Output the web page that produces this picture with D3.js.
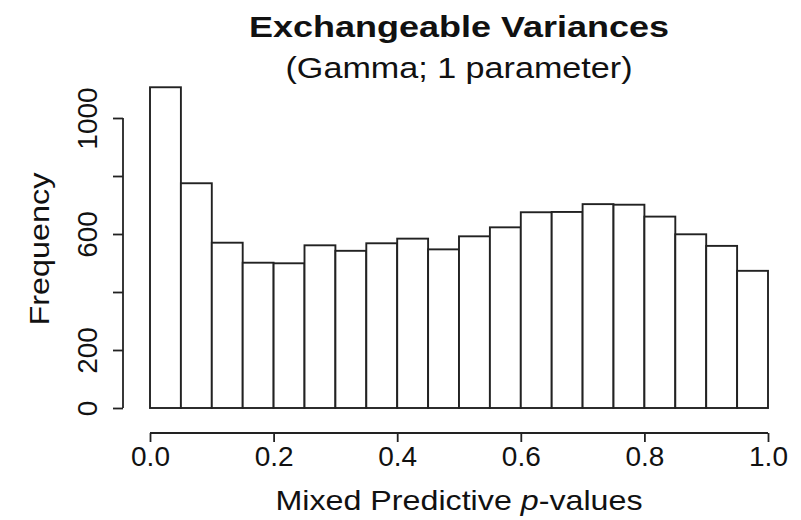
<!DOCTYPE html>
<html>
<head>
<meta charset="utf-8">
<script src="https://cdn.jsdelivr.net/npm/d3@7"></script>
<style>
  html, body { margin: 0; padding: 0; background: #fff; }
  text { font-family: "Liberation Sans", Arial, Helvetica, sans-serif; fill: #111; }
</style>
</head>
<body>
<svg id="chart" width="801" height="520"></svg>
<script>
// Histogram bins of mixed predictive p-values (width 0.05)
const binStarts = [0.00, 0.05, 0.10, 0.15, 0.20, 0.25, 0.30, 0.35, 0.40, 0.45,
                   0.50, 0.55, 0.60, 0.65, 0.70, 0.75, 0.80, 0.85, 0.90, 0.95];
const binWidth = 0.05;
const counts = [1106, 775, 570, 501, 499, 561, 542, 568, 584, 547,
                592, 623, 675, 676, 703, 701, 660, 599, 559, 473];
const xTicks = [0.0, 0.2, 0.4, 0.6, 0.8, 1.0];
const yTicks = [0, 200, 400, 600, 800, 1000];
const yLabelled = [0, 200, 600, 1000];

const svg = d3.select("#chart");
const x = d3.scaleLinear().domain([0, 1]).range([150, 768]);
const y = d3.scaleLinear().domain([0, 1000]).range([408, 118]);

// Bars
svg.append("g")
  .selectAll("rect")
  .data(binStarts)
  .join("rect")
  .attr("x", d => x(d))
  .attr("width", d => x(d + binWidth) - x(d))
  .attr("y", (d, i) => y(counts[i]))
  .attr("height", (d, i) => y(0) - y(counts[i]))
  .attr("fill", "#fff")
  .attr("stroke", "#222")
  .attr("stroke-width", 1.9);

// X axis (detached below the bars)
const xAxis = svg.append("g").attr("transform", "translate(0,433)")
  .call(d3.axisBottom(x).tickValues(xTicks).tickFormat(d3.format(".1f")).tickSize(9).tickPadding(4));
xAxis.select(".domain").attr("d", `M${x(0)},0H${x(1)}`);
xAxis.selectAll("path, line").attr("stroke", "#222").attr("stroke-width", 1.8);
xAxis.selectAll("text").attr("font-size", 28).attr("font-family", null).attr("fill", "#111");

// Y axis
const yAxis = svg.append("g").attr("transform", "translate(123,0)")
  .call(d3.axisLeft(y).tickValues(yTicks).tickSize(10).tickFormat(d => yLabelled.includes(d) ? d : ""));
yAxis.select(".domain").attr("d", `M0,${y(0)}V${y(1000)}`);
yAxis.selectAll("path, line").attr("stroke", "#222").attr("stroke-width", 1.8);
yAxis.selectAll("text")
  .attr("font-size", 28).attr("font-family", null).attr("fill", "#111")
  .attr("text-anchor", "middle")
  .attr("x", null).attr("dy", null)
  .attr("transform", "translate(-26,0) rotate(-90)");

// Titles
svg.append("text").attr("x", 459).attr("y", 37).attr("text-anchor", "middle")
  .attr("font-size", 30).attr("font-weight", "bold")
  .attr("textLength", 420).attr("lengthAdjust", "spacingAndGlyphs")
  .text("Exchangeable Variances");
svg.append("text").attr("x", 459).attr("y", 78).attr("text-anchor", "middle")
  .attr("font-size", 30)
  .attr("textLength", 347).attr("lengthAdjust", "spacingAndGlyphs")
  .text("(Gamma; 1 parameter)");

// Axis titles
const xt = svg.append("text").attr("x", 459).attr("y", 510).attr("text-anchor", "middle")
  .attr("font-size", 28)
  .attr("textLength", 367).attr("lengthAdjust", "spacingAndGlyphs");
xt.append("tspan").text("Mixed Predictive ");
xt.append("tspan").attr("font-style", "italic").text("p");
xt.append("tspan").text("-values");

svg.append("text").attr("transform", "translate(49,249) rotate(-90)")
  .attr("text-anchor", "middle").attr("font-size", 28)
  .attr("textLength", 153).attr("lengthAdjust", "spacingAndGlyphs")
  .text("Frequency");
</script>
</body>
</html>
